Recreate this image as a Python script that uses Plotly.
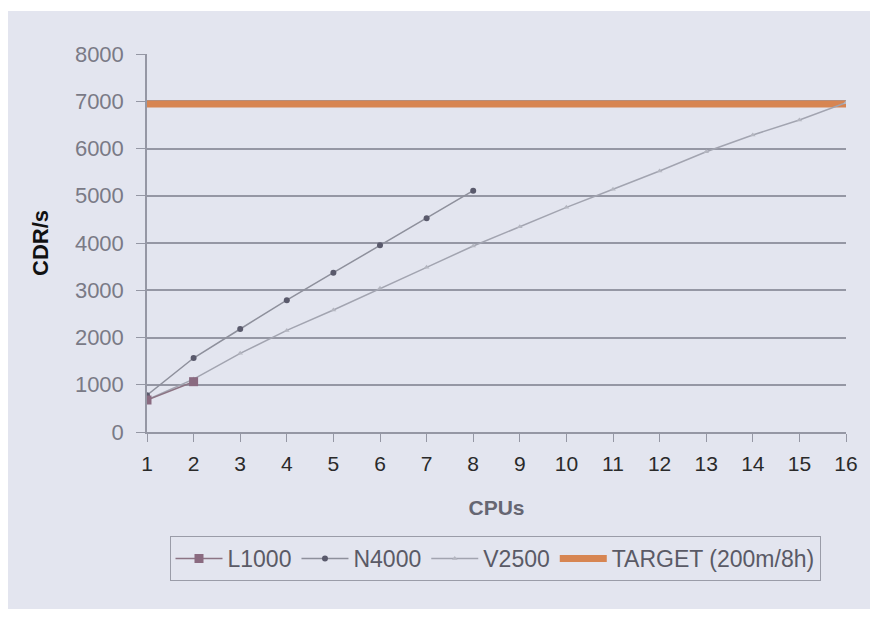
import plotly.graph_objects as go

cpus = list(range(1, 17))
l1000_x = [1, 2]
l1000 = [677, 1065]
n4000_x = [1, 2, 3, 4, 5, 6, 7, 8]
n4000 = [780, 1566, 2180, 2790, 3371, 3951, 4522, 5107]
v2500 = [680, 1120, 1665, 2150, 2582, 3040, 3485, 3936, 4346, 4755, 5136, 5524, 5932, 6286, 6603, 6970]
target = [6944] * 16
y_ticks = [0, 1000, 2000, 3000, 4000, 5000, 6000, 7000, 8000]

PANEL = "#e3e5ef"
GRID = "#9597a4"
FONT = "Liberation Sans, Arial, sans-serif"

fig = go.Figure()
fig.add_trace(go.Scatter(x=cpus, y=target, name="TARGET (200m/8h)", mode="lines",
                         line=dict(color="#d78552", width=7)))
fig.add_trace(go.Scatter(x=cpus, y=v2500, name="V2500", mode="lines+markers",
                         line=dict(color="#a2a4b0", width=1.5),
                         marker=dict(symbol="triangle-up", size=5, color="#b4b6c0")))
fig.add_trace(go.Scatter(x=n4000_x, y=n4000, name="N4000", mode="lines+markers",
                         line=dict(color="#8e909c", width=1.5),
                         marker=dict(symbol="circle", size=6, color="#5a5a6c")))
fig.add_trace(go.Scatter(x=l1000_x, y=l1000, name="L1000", mode="lines+markers",
                         line=dict(color="#8c7484", width=1.5),
                         marker=dict(symbol="square", size=9, color="#8a6a80")))

# figure is placed at (8,8) in the page by the body margin
W, H = 862, 603
L, R, T, B = 139, 24, 46, 179
pw, ph = W - L - R, H - T - B

def px(x):
    return (x - L) / pw

def py(y):
    return (H - B - y) / ph

fig.add_shape(type="rect", xref="paper", yref="paper",
              x0=px(-1), x1=px(862), y0=py(601), y1=py(3),
              fillcolor=PANEL, line=dict(width=0), layer="below")

fig.update_layout(
    width=W, height=H,
    margin=dict(l=L, r=R, t=T, b=B),
    paper_bgcolor="white", plot_bgcolor=PANEL,
    font=dict(family=FONT, size=22, color="#333333"),
    showlegend=True,
    legend=dict(orientation="h", traceorder="reversed",
                x=px(487), xanchor="center", y=py(550.5), yanchor="middle",
                bgcolor=PANEL, bordercolor="#9a9ca8", borderwidth=1,
                font=dict(size=23, color="#5a5a66"),
                itemwidth=47),
    xaxis=dict(range=[1, 16], tickvals=cpus, ticktext=[str(c) for c in cpus],
               showgrid=False, zeroline=False, showline=True, linecolor=GRID, linewidth=1.5,
               ticks="outside", ticklen=8, tickcolor=GRID, ticklabelstandoff=4,
               tickfont=dict(size=21, color="#2a2a2a"),
               title=dict(text="<b>CPUs</b>", font=dict(size=21, color="#666672"), standoff=26)),
    yaxis=dict(range=[0, 8000], tickvals=y_ticks,
               showgrid=True, gridcolor=GRID, gridwidth=1.8, zeroline=False,
               showline=True, linecolor=GRID, linewidth=1.5,
               ticks="outside", ticklen=9, tickcolor=GRID, ticklabelstandoff=8,
               tickfont=dict(size=22, color="#7a7a86"),
               title=dict(text="<b>CDR/s</b>", font=dict(size=22, color="#111111"), standoff=20)),
)

fig.write_html("out.html")
